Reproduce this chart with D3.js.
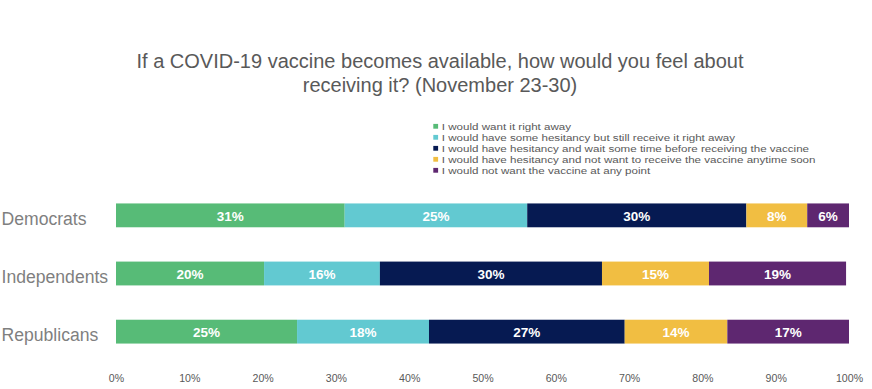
<!DOCTYPE html>
<html><head><meta charset="utf-8">
<script src="https://cdn.jsdelivr.net/npm/d3@7"></script>
<style>body{margin:0;background:#fff}svg{display:block}</style>
</head><body>
<svg id="c" width="872" height="389"></svg>
<script>
const categories = ["Democrats", "Independents", "Republicans"];
const seriesNames = [
  "I would want it right away",
  "I would have some hesitancy but still receive it right away",
  "I would have hesitancy and wait some time before receiving the vaccine",
  "I would have hesitancy and not want to receive the vaccine anytime soon",
  "I would not want the vaccine at any point"
];
const wantNow     = [31.2, 20.2, 24.7];
const someHesit   = [24.9, 15.8, 18.0];
const waitTime    = [29.9, 30.3, 26.7];
const notSoon     = [8.3, 14.6, 14.0];
const never       = [5.7, 18.7, 16.6];
const colors = ["#57bb77", "#62c9d1", "#061a52", "#f1be42", "#5e2770"];
const xTicks = [0, 10, 20, 30, 40, 50, 60, 70, 80, 90, 100];
const titleLines = ["If a COVID-19 vaccine becomes available, how would you feel about", "receiving it? (November 23-30)"];

const series = [wantNow, someHesit, waitTime, notSoon, never];
const rows = categories.map((c, i) => {
  const o = {cat: c};
  seriesNames.forEach((s, j) => o[s] = series[j][i]);
  return o;
});
const stacked = d3.stack().keys(seriesNames)(rows);

const svg = d3.select("#c");
const font = "'Liberation Sans', Arial, sans-serif";

const x = d3.scaleLinear().domain([0, 100]).range([116, 849]);
const y = d3.scaleBand().domain(categories).range([186, 361]).paddingInner(0.59).paddingOuter(0.3);

// title
svg.append("g").selectAll("text").data(titleLines).join("text")
  .attr("x", 440).attr("y", (d, i) => 68.3 + i * 24)
  .attr("text-anchor", "middle")
  .attr("font-family", font).attr("font-size", 20).attr("fill", "#595959")
  .text(d => d);

// legend (text is horizontally stretched as in the reference)
const lg = svg.append("g").selectAll("g").data(seriesNames).join("g")
  .attr("transform", (d, i) => `translate(433.3, ${126.3 + i * 11})`);
lg.append("rect").attr("x", 0).attr("y", -2.4).attr("width", 4.8).attr("height", 4.8)
  .attr("fill", (d, i) => colors[i]);
lg.append("g").attr("transform", "translate(8.5, 3.4) scale(1.22, 1)")
  .append("text").attr("x", 0).attr("y", 0)
  .attr("font-family", font).attr("font-size", 9.5).attr("fill", "#595959")
  .text(d => d);

// bars
const layers = svg.append("g").selectAll("g").data(stacked).join("g")
  .attr("fill", (d, i) => colors[i]);
layers.selectAll("rect").data(d => d).join("rect")
  .attr("x", d => x(d[0]))
  .attr("width", d => x(d[1]) - x(d[0]))
  .attr("y", d => y(d.data.cat))
  .attr("height", y.bandwidth());

layers.selectAll("text").data(d => d.map(v => ({v, key: d.key}))).join("text")
  .attr("x", d => (x(d.v[0]) + x(d.v[1])) / 2)
  .attr("y", d => y(d.v.data.cat) + y.bandwidth() / 2 + 5.2)
  .attr("text-anchor", "middle")
  .attr("font-family", font).attr("font-size", 13.5).attr("font-weight", "bold")
  .attr("fill", "#fff")
  .text(d => Math.round(d.v.data[d.key]) + "%");

// category labels
svg.append("g").selectAll("text").data(categories).join("text")
  .attr("x", 1.5).attr("y", d => y(d) + y.bandwidth() / 2 + 9.5)
  .attr("font-family", font).attr("font-size", 17.6).attr("fill", "#7f7f7f")
  .text(d => d);

// x axis
const xa = svg.append("g").attr("transform", "translate(0, 366)")
  .call(d3.axisBottom(x).tickValues(xTicks).tickSize(0).tickFormat(d => d + "%"));
xa.select(".domain").remove();
xa.selectAll("text").attr("font-family", font).attr("font-size", 10.6).attr("fill", "#595959")
  .attr("y", 15.5).attr("dy", null);
</script>
</body></html>
